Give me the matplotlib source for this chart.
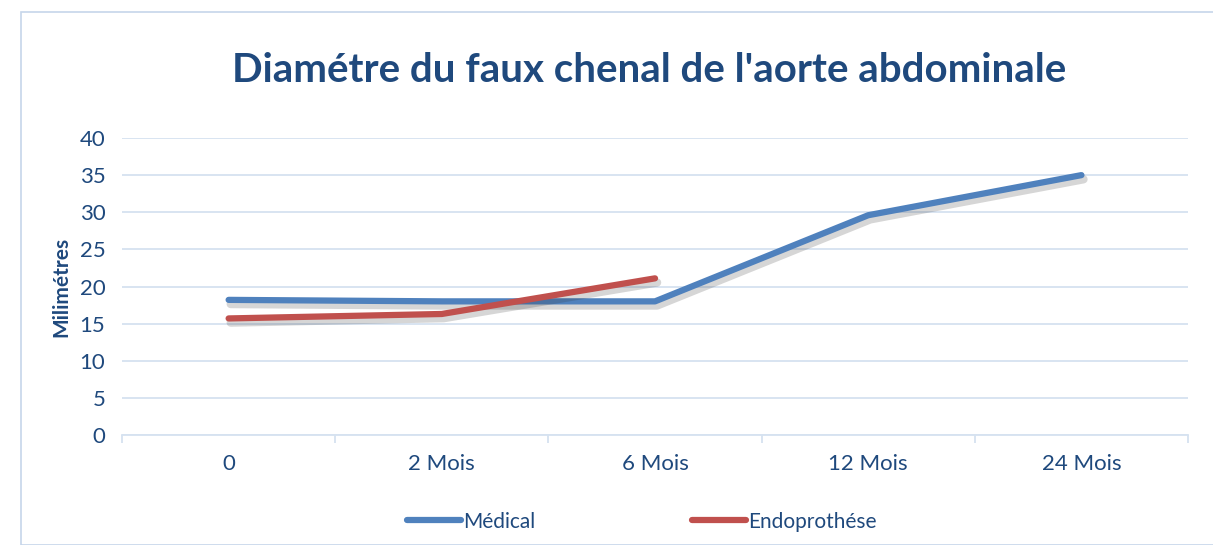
import matplotlib
matplotlib.use("Agg")
import matplotlib.pyplot as plt
import matplotlib.patheffects as pe
from matplotlib.patches import Rectangle

categories = ["0", "2 Mois", "6 Mois", "12 Mois", "24 Mois"]
medical = [18.2, 18.0, 18.0, 29.6, 35.0]
endo = [15.7, 16.3, 21.1]
yticks = list(range(0, 45, 5))

text_col = "#1F497D"
grid_col = "#D6E2F0"
blue = "#4F81BD"
red = "#C0504D"

plt.rcParams["font.family"] = ["Lato", "DejaVu Sans"]

fig = plt.figure(figsize=(12.13, 5.45), dpi=100)
ax = fig.add_axes([0.1006, 0.2018, 0.8788, 0.545])

# bordure du graphique
fig.patches.append(Rectangle((0.017, 0.0), 0.99, 0.978, transform=fig.transFigure,
                             fill=False, edgecolor="#C6D6EA", linewidth=1.2))

shadow = [pe.SimpleLineShadow(offset=(1.5, -3), alpha=0.2, shadow_color="#333333", linewidth=6),
          pe.Normal()]
x = list(range(len(categories)))
ax.plot(x, medical, color=blue, lw=4.5, solid_capstyle="round", solid_joinstyle="round",
        label="Médical", path_effects=shadow, zorder=3)
ax.plot(x[:len(endo)], endo, color=red, lw=4.5, solid_capstyle="round", solid_joinstyle="round",
        label="Endoprothése", path_effects=shadow, zorder=4)

ax.set_xlim(-0.5, len(categories) - 0.5)
ax.set_ylim(0, 40)
ax.set_yticks(yticks)
ax.set_xticks(x)
ax.set_xticklabels(categories)
ax.set_xticks([i - 0.5 for i in range(len(categories) + 1)], minor=True)

ax.grid(axis="y", color=grid_col, lw=1.3)
ax.set_axisbelow(True)
for s in ["top", "right", "left"]:
    ax.spines[s].set_visible(False)
ax.spines["bottom"].set_color(grid_col)
ax.spines["bottom"].set_linewidth(1.3)

ax.tick_params(axis="y", length=0, pad=12, labelsize=16, labelcolor=text_col)
ax.tick_params(axis="x", which="major", length=0, pad=14, labelsize=16, labelcolor=text_col)
ax.tick_params(axis="x", which="minor", length=6, color=grid_col, width=1.3)

ax.set_ylabel("Milimétres", fontsize=15, fontweight="bold", color=text_col, labelpad=6)

fig.text(0.535, 0.87, "Diamétre du faux chenal de l'aorte abdominale", ha="center", va="center",
         fontsize=29, fontweight="bold", color=text_col)

leg = fig.legend(loc="center", bbox_to_anchor=(0.529, 0.043), ncol=2, frameon=False,
                 fontsize=15, handlelength=2.6, columnspacing=7.5, handletextpad=0.1)
for t in leg.get_texts():
    t.set_color(text_col)
for h in leg.legend_handles:
    h.set_path_effects([])

fig.savefig("out.png", dpi=100)
